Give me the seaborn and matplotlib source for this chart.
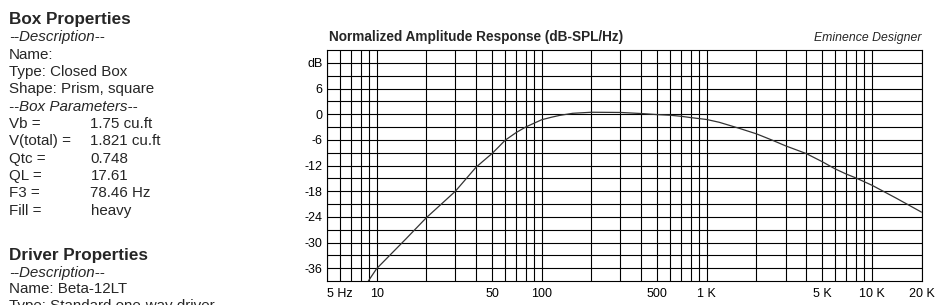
import numpy as np
import pandas as pd
import matplotlib
matplotlib.use("Agg")
import matplotlib.pyplot as plt
import seaborn as sns
from matplotlib.ticker import FixedLocator, NullFormatter

# ---------------- data ----------------
freq_hz = [8.9, 10, 15, 20, 25, 30, 35, 40, 45, 50, 55, 60, 70, 80, 90, 100,
           115, 128, 154, 200, 300, 400, 500, 600, 700, 800, 1000, 1190,
           1570, 2000, 2500, 3000, 4000, 5000, 6000, 7000, 8000, 10000,
           14000, 20000]
response_db = [-39.0, -36.1, -29.2, -24.2, -20.8, -18.0, -15.0, -12.4, -10.7,
               -9.2, -7.6, -6.1, -4.3, -3.0, -2.1, -1.3, -0.7, -0.3, 0.2,
               0.45, 0.4, 0.15, -0.1, -0.25, -0.5, -0.8, -1.25, -1.9, -3.3,
               -4.6, -6.1, -7.4, -9.2, -11.1, -12.8, -14.0, -14.9, -16.6,
               -19.6, -22.9]

x_tick_pos = [5, 10, 50, 100, 500, 1000, 5000, 10000, 20000]
x_tick_labels = ["5 Hz", "10", "50", "100", "500", "1 K", "5 K", "10 K", "20 K"]
y_tick_pos = [12, 6, 0, -6, -12, -18, -24, -30, -36]
y_tick_labels = ["dB", "6", "0", "-6", "-12", "-18", "-24", "-30", "-36"]

chart_title = "Normalized Amplitude Response (dB-SPL/Hz)"
chart_credit = "Eminence Designer"

box_heading = "Box Properties"
box_desc_lines = ["--Description--", "Name:", "Type: Closed Box",
                  "Shape: Prism, square", "--Box Parameters--"]
box_param_names = ["Vb =", "V(total) =", "Qtc =", "QL =", "F3 =", "Fill ="]
box_param_values = ["1.75 cu.ft", "1.821 cu.ft", "0.748", "17.61",
                    "78.46 Hz", "heavy"]
driver_heading = "Driver Properties"
driver_lines = ["--Description--", "Name: Beta-12LT",
                "Type: Standard one-way driver"]

# ---------------- style ----------------
sns.set_style("white")
plt.rcParams["font.family"] = ["Liberation Sans", "DejaVu Sans"]

W, H = 935, 305
fig = plt.figure(figsize=(W / 100, H / 100), dpi=100)
fig.patch.set_facecolor("white")

L, R, T, B = 327, 921.5, 50, 281
ax = fig.add_axes([L / W, 1 - B / H, (R - L) / W, (B - T) / H])

df = pd.DataFrame({"freq": freq_hz, "db": response_db})
sns.lineplot(data=df, x="freq", y="db", ax=ax, color="#333333",
             linewidth=0.9, zorder=3)

ax.set_xscale("log")
ax.set_xlim(5, 20000)
ax.set_ylim(-39, 15)

ax.xaxis.set_major_locator(FixedLocator(x_tick_pos))
ax.set_xticklabels(x_tick_labels)
minor_x = [m * 10 ** d for d in range(0, 5) for m in range(1, 10)
           if 5 < m * 10 ** d < 20000]
ax.xaxis.set_minor_locator(FixedLocator(minor_x))
ax.xaxis.set_minor_formatter(NullFormatter())

ax.yaxis.set_major_locator(FixedLocator(y_tick_pos))
ax.set_yticklabels(y_tick_labels)
ax.yaxis.set_minor_locator(FixedLocator(list(range(-36, 15, 3))))
ax.yaxis.set_minor_formatter(NullFormatter())

ax.grid(which="both", color="black", linewidth=0.8)
ax.set_axisbelow(True)
ax.tick_params(which="both", length=0)
ax.tick_params(axis="x", pad=5, labelsize=9, colors="black")
ax.tick_params(axis="y", pad=3, labelsize=9, colors="black")
xl = ax.get_xticklabels()
xl[0].set_horizontalalignment("left")
for s in ax.spines.values():
    s.set_color("black")
    s.set_linewidth(0.8)
ax.set_xlabel("")
ax.set_ylabel("")

ax.text(0.003, 1.025, chart_title, transform=ax.transAxes, fontsize=9.8,
        fontweight="bold", ha="left", va="bottom")
ax.text(1.0, 1.025, chart_credit, transform=ax.transAxes, fontsize=8.8,
        style="italic", ha="right", va="bottom")

# ---------------- left-hand text panel ----------------
def put(x, y, s, **kw):
    fig.text(x / W, 1 - y / H, s, va="baseline", ha="left", **kw)

x0, x1 = 9, 90.5
fs = 10.9
put(x0, 24, box_heading, fontsize=12.3, fontweight="bold")
y = 41.5
step = 17.3
for line in box_desc_lines:
    italic = line.startswith("--")
    put(x0, y, line, fontsize=fs, style="italic" if italic else "normal")
    y += step
for name, val in zip(box_param_names, box_param_values):
    put(x0, y, name, fontsize=fs)
    put(x1, y, val, fontsize=fs)
    y += step

put(x0, 260, driver_heading, fontsize=12.3, fontweight="bold")
y = 276.7
for line in driver_lines:
    italic = line.startswith("--")
    put(x0, y, line, fontsize=fs, style="italic" if italic else "normal")
    y += 16.6

fig.savefig("out.png", dpi=100)
